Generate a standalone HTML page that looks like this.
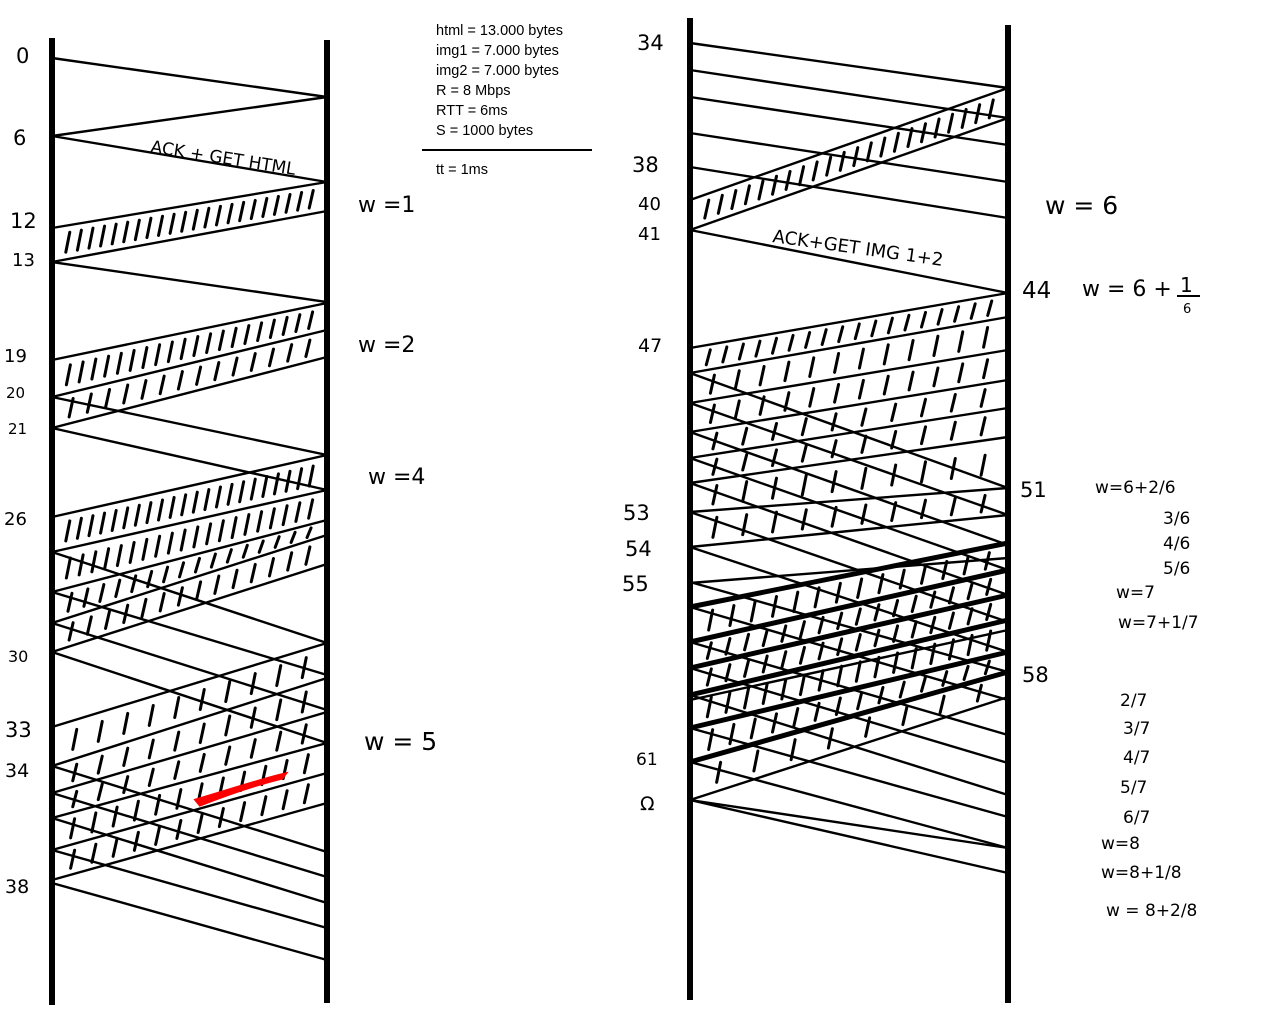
<!DOCTYPE html>
<html><head><meta charset="utf-8"><style>
html,body{margin:0;padding:0;background:#fff;width:1280px;height:1024px;overflow:hidden}
svg{display:block}
.h{font-family:"DejaVu Sans","Liberation Sans",sans-serif;fill:#000}
.i{font-family:"Liberation Sans",sans-serif;font-size:14.5px;fill:#000}
</style></head><body>
<svg id="c" width="1280" height="1024">
<g id="g"></g>
<g>
<text class="i" x="436" y="35">html = 13.000 bytes</text>
<text class="i" x="436" y="55">img1 = 7.000 bytes</text>
<text class="i" x="436" y="75">img2 = 7.000 bytes</text>
<text class="i" x="436" y="95">R = 8 Mbps</text>
<text class="i" x="436" y="115">RTT = 6ms</text>
<text class="i" x="436" y="135">S = 1000 bytes</text>
<line x1="422" y1="150" x2="592" y2="150" stroke="#000" stroke-width="2"/>
<text class="i" x="436" y="174">tt = 1ms</text>
</g>
<g class="h" font-size="21">
<text x="16" y="63">0</text><text x="13" y="145">6</text><text x="10" y="228">12</text>
<text x="12" y="266" font-size="18">13</text><text x="4" y="362" font-size="18">19</text>
<text x="6" y="398" font-size="15">20</text><text x="8" y="434" font-size="15">21</text>
<text x="4" y="525" font-size="18">26</text><text x="8" y="662" font-size="16">30</text>
<text x="5" y="737">33</text><text x="5" y="777" font-size="19">34</text><text x="5" y="893" font-size="19">38</text>
</g>
<g class="h" font-size="22">
<text x="358" y="212">w =1</text><text x="358" y="352">w =2</text>
<text x="368" y="484">w =4</text><text x="364" y="750" font-size="25">w = 5</text>
</g>
<text class="h" x="150" y="152" font-size="17" transform="rotate(9 150 152)">ACK + GET HTML</text>
<text class="h" x="772" y="242" font-size="18" transform="rotate(8 772 242)">ACK+GET IMG 1+2</text>
<g class="h" font-size="21">
<text x="637" y="50">34</text><text x="632" y="172">38</text><text x="638" y="210" font-size="18">40</text>
<text x="638" y="240" font-size="18">41</text><text x="638" y="352" font-size="19">47</text>
<text x="623" y="520">53</text><text x="625" y="556">54</text><text x="622" y="591">55</text>
<text x="636" y="765" font-size="17">61</text><text x="640" y="810" font-size="19">Ω</text>
<text x="1022" y="298" font-size="23">44</text><text x="1020" y="497">51</text><text x="1022" y="682">58</text>
</g>
<g class="h" font-size="17">
<text x="1045" y="214" font-size="25">w = 6</text>
<text x="1082" y="296" font-size="22">w = 6 +</text><text x="1180" y="292" font-size="20">1</text>
<line x1="1177" y1="296" x2="1200" y2="296" stroke="#000" stroke-width="2"/><text x="1183" y="313" font-size="13">6</text>
<text x="1095" y="493">w=6+2/6</text><text x="1163" y="524">3/6</text><text x="1163" y="549">4/6</text>
<text x="1163" y="574">5/6</text><text x="1116" y="598">w=7</text><text x="1118" y="628">w=7+1/7</text>
<text x="1120" y="706">2/7</text><text x="1123" y="734">3/7</text><text x="1123" y="763">4/7</text>
<text x="1120" y="793">5/7</text><text x="1123" y="823">6/7</text><text x="1101" y="849">w=8</text>
<text x="1101" y="878">w=8+1/8</text><text x="1106" y="916">w = 8+2/8</text>
</g>
<path d="M196 800 C230 790 260 780 285 774 L282 778 C250 786 225 795 200 805 Z" fill="#f00" stroke="#f00" stroke-width="3"/>
</svg>
<script>
// timeline axes
const leftX = [52, 327];
const rightX = [690, 1008];
// messages: [fromSide(0=left,1=right), yStart, yEnd, thick]
const leftMsgs = [
[0,58,97],[1,97,136],[0,136,182],[1,182,228],[1,211,262],[0,262,302],
[1,303,360],[1,330,397],[1,357,428],[0,397,455],[0,428,490],
[1,455,517],[1,490,552],[1,520,592],[1,535,623],[1,564,652],
[0,552,643],[0,592,675],[0,623,710],[0,652,743],
[1,643,727],[1,678,766],[1,712,793],[1,743,818],[1,773,850],[1,803,880],
[0,766,852],[0,793,877],[0,818,903],[0,850,928],[0,883,960]
];
const rightMsgs = [
[0,43,88],[0,70,118],[0,97,145],[0,133,182],[0,167,218],
[1,88,200],[1,118,230],[0,230,293],
[1,293,348],[1,317,373],[1,350,403],[1,380,432],[1,408,458],[1,437,483],[1,488,512],[1,515,547],
[0,373,488],[0,403,515],[0,432,545],[0,458,570],[0,483,595],[0,512,622],[0,547,652],[0,582,672],
[1,543,607,1],[1,570,642,1],[1,595,668,1],[1,620,695,1],[1,652,728,1],[1,672,762,1],
[1,558,583],[1,630,700],[1,697,800],
[0,607,700],[0,642,735],[0,668,763],[0,695,795],[0,728,817],[0,762,848],[0,800,848],[0,800,873]
];
// hatched bands: [side, msgIndexA, msgIndexB, count]
const leftBands = [[0,3,4,22],[0,6,7,20],[0,7,8,14],[0,11,12,22],[0,12,13,20],[0,13,14,16],[0,14,15,14],[0,20,21,10],[0,21,22,10],[0,22,23,10],[0,23,24,12],[0,24,25,12]];
const rightBands = [[1,5,6,22],[1,8,9,18],[1,9,10,12],[1,10,11,12],[1,11,12,10],[1,12,13,10],[1,13,14,10],[1,14,15,10],[1,24,25,14],[1,25,26,16],[1,26,27,16],[1,27,28,16],[1,28,29,14],[1,29,32,8]];

const NS='http://www.w3.org/2000/svg';
const g=document.getElementById('g');
function mk(tag,attrs){const e=document.createElementNS(NS,tag);for(const k in attrs)e.setAttribute(k,attrs[k]);g.appendChild(e);return e;}
function axis(x,y1,y2,name){
  const e=mk('line',{x1:x,y1:y1,x2:x,y2:y2,stroke:'#000','stroke-width':6});
  
  
}
axis(leftX[0],38,1005,'client-timeline-1');axis(leftX[1],40,1003,'server-timeline-1');
axis(rightX[0],18,1000,'client-timeline-2');axis(rightX[1],25,1003,'server-timeline-2');
function seg(xs,m){const a=m[0]===0?xs[0]:xs[1],b=m[0]===0?xs[1]:xs[0];return [a,m[1],b,m[2]];}
function yAt(s,x){return s[1]+(s[3]-s[1])*(x-s[0])/(s[2]-s[0]);}
function draw(xs,msgs,prefix){
  msgs.forEach((m,i)=>{const s=seg(xs,m);
    const e=mk('line',{x1:s[0],y1:s[1],x2:s[2],y2:s[3],stroke:'#000','stroke-width':m[3]?5:2.4,'stroke-linecap':'round'});
    
    
  });
}
draw(leftX,leftMsgs,'left');draw(rightX,rightMsgs,'right');
function hatch(bands){
  bands.forEach(b=>{const xs=b[0]?rightX:leftX,msgs=b[0]?rightMsgs:leftMsgs;
    const sa=seg(xs,msgs[b[1]]),sb=seg(xs,msgs[b[2]]);
    const x0=xs[0]+10,x1=xs[1]-10,n=b[3];
    for(let k=0;k<n;k++){const x=x0+(x1-x0)*(k+0.5)/n;
      const ya=yAt(sa,x),yb=yAt(sb,x);const top=Math.min(ya,yb),bot=Math.max(ya,yb);
      const gap=bot-top; if(gap<8)continue;
      const h=Math.min(gap*0.6,20);const mid=(top+bot)/2;
      const e=mk('line',{x1:x-2,y1:mid+h/2,x2:x+2,y2:mid-h/2,stroke:'#000','stroke-width':3,'stroke-linecap':'round'});
      
      
    }
  });
}
hatch(leftBands);hatch(rightBands);
</script>
</body></html>
